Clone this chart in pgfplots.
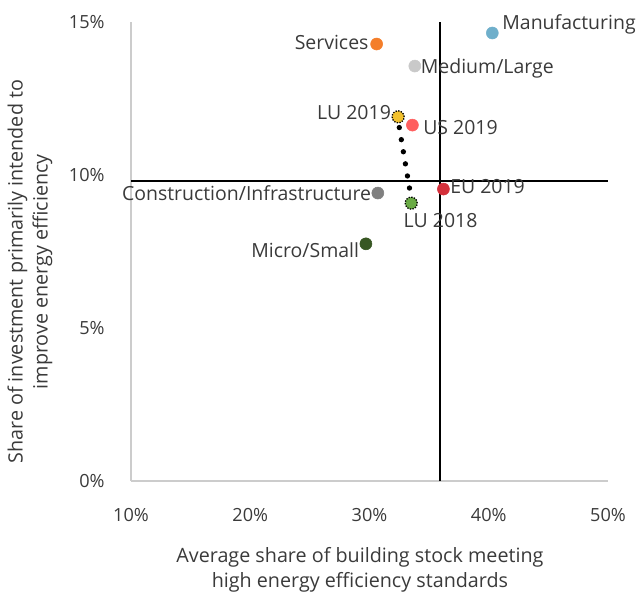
\documentclass[border=0pt]{standalone}
\usepackage{fontspec}
\setmainfont{Open Sans}
\usepackage{pgfplots}
\pgfplotsset{compat=1.18}
\definecolor{txt}{HTML}{3A3A3A}
\definecolor{cManu}{HTML}{6FAFCB}
\definecolor{cServ}{HTML}{F47E2A}
\definecolor{cMed}{HTML}{C9C9C9}
\definecolor{cLU19}{HTML}{F2C12E}
\definecolor{cUS}{HTML}{FF5F5F}
\definecolor{cEU}{HTML}{D4303B}
\definecolor{cCon}{HTML}{808080}
\definecolor{cLU18}{HTML}{6AAB45}
\definecolor{cMicro}{HTML}{385723}
\begin{document}
\fontsize{14.8pt}{18.75pt}\selectfont
\begin{tikzpicture}
\begin{axis}[
  width=357.75pt, height=344.25pt, scale only axis,
  xmin=10, xmax=50, ymin=0, ymax=15,
  axis x line=bottom, axis y line=left,
  axis line style={draw=black!20, -, line width=0.8pt},
  xtick={10,20,30,40,50}, ytick={0,5,10,15},
  tick style={draw=none},
  xticklabel={\pgfmathprintnumber{\tick}\%},
  yticklabel={\pgfmathprintnumber{\tick}\%},
  /pgf/number format/assume math mode=true,
  ticklabel style={font=\fontsize{13.6pt}{16pt}\selectfont, text=txt},
  xticklabel style={yshift=-13.5pt},
  yticklabel style={xshift=-12.5pt},
  xlabel={Average share of building stock meeting\\high energy efficiency standards},
  ylabel={Share of investment primarily intended to\\improve energy efficiency},
  xlabel style={align=center, text=txt, at={(rel axis cs:0.48,-0.1935)}, anchor=center},
  ylabel style={align=center, text=txt, at={(rel axis cs:-0.2117,0.456)}, anchor=center, rotate=0},
  clip=false,
  every node near coord/.append style={text=txt, font=\fontsize{14.6pt}{17pt}\selectfont},
]
\coordinate (BL) at (rel axis cs:-0.2746,-0.2418);
\coordinate (TR) at (rel axis cs:1.0671,1.0479);
% crosshair lines
\addplot[black, line width=1.1pt] coordinates {(10,9.8) (50,9.8)};
\addplot[black, line width=1.1pt] coordinates {(35.9,0) (35.9,15)};
% LU trajectory
\addplot[black, line width=4pt, line cap=round, dash pattern=on 0pt off 9.2pt] coordinates {(32.5,11.55) (33.45,9.35)};
% points
\addplot[only marks, mark=*, mark size=4.5pt, color=cManu,
  nodes near coords={Manufacturing}, every node near coord/.append style={anchor=west, xshift=2.4pt, yshift=6.5pt}]
  coordinates {(40.3,14.64)};
\addplot[only marks, mark=*, mark size=4.5pt, color=cServ,
  nodes near coords={Services}, every node near coord/.append style={anchor=east, xshift=-1pt, yshift=1pt}]
  coordinates {(30.6,14.28)};
\addplot[only marks, mark=*, mark size=4.5pt, color=cMed,
  nodes near coords={Medium/Large}, every node near coord/.append style={anchor=west, xshift=-0.6pt, yshift=-2pt}]
  coordinates {(33.8,13.56)};
\addplot[only marks, mark=*, mark size=4.5pt, color=cUS,
  nodes near coords={US 2019}, every node near coord/.append style={anchor=west, xshift=3pt, yshift=-1.5pt}]
  coordinates {(33.6,11.63)};
\addplot[only marks, mark=*, mark size=4.5pt, color=cEU,
  nodes near coords={EU 2019}, every node near coord/.append style={anchor=west, xshift=0pt, yshift=2pt}]
  coordinates {(36.2,9.54)};
\addplot[only marks, mark=*, mark size=4.5pt, color=cCon,
  nodes near coords={Construction/Infrastructure}, every node near coord/.append style={anchor=east, xshift=0pt, yshift=0pt}]
  coordinates {(30.7,9.41)};
\addplot[only marks, mark=*, mark size=4.5pt, color=cMicro,
  nodes near coords={Micro/Small}, every node near coord/.append style={anchor=east, xshift=0pt, yshift=-4.5pt}]
  coordinates {(29.7,7.75)};
\addplot[only marks, mark=*, mark size=4.5pt, mark options={fill=cLU19, draw=black, line width=1pt, densely dotted},
  nodes near coords={LU 2019}, every node near coord/.append style={anchor=east, xshift=0pt, yshift=3pt}]
  coordinates {(32.4,11.9)};
\addplot[only marks, mark=*, mark size=4.5pt, mark options={fill=cLU18, draw=black, line width=1pt, densely dotted},
  nodes near coords={LU 2018}, every node near coord/.append style={anchor=center, xshift=22pt, yshift=-13pt}]
  coordinates {(33.5,9.08)};
\end{axis}
\pgfresetboundingbox
\path[use as bounding box] (BL) rectangle (TR);
\end{tikzpicture}
\end{document}
